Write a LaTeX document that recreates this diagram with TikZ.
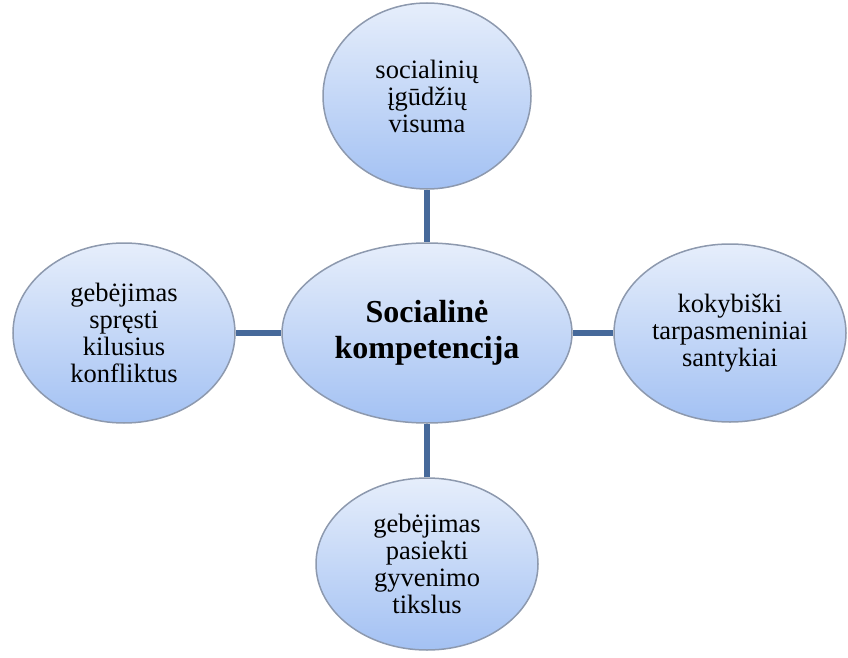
\documentclass[tikz,border=0pt]{standalone}
\usepackage{fontspec}
\setmainfont{Liberation Serif}
\usetikzlibrary{shapes.geometric}
\definecolor{ellTop}{HTML}{E6EEFB}
\definecolor{ellBot}{HTML}{A3C1F3}
\definecolor{ellLine}{HTML}{8D99AE}
\definecolor{linkCol}{HTML}{46699A}
\begin{document}
\begin{tikzpicture}[x=1pt,y=-1pt,
  bubble/.style={ellipse, draw=ellLine, line width=1.5pt, top color=ellTop, bottom color=ellBot,
    inner sep=0pt, align=center, font=\fontsize{26.5}{27}\selectfont},
  link/.style={draw=linkCol, line width=6pt}]
\useasboundingbox (0,0) rectangle (848,658);
\node[bubble, minimum width=290pt, minimum height=180pt, font=\fontsize{32}{36}\selectfont\bfseries] (c) at (427,333) {Socialinė\\kompetencija};
\node[bubble, minimum width=208pt, minimum height=186pt] (t) at (427,96) {socialinių\\įgūdžių\\visuma};
\node[bubble, minimum width=222pt, minimum height=180pt] (l) at (124,333) {gebėjimas\\spręsti\\kilusius\\konfliktus};
\node[bubble, minimum width=232pt, minimum height=178pt] (r) at (730,333) {kokybiški\\tarpasmeniniai\\santykiai};
\node[bubble, minimum width=222pt, minimum height=172pt] (b) at (427,564) {gebėjimas\\pasiekti\\gyvenimo\\tikslus};
\draw[link] (t) -- (c);
\draw[link] (b) -- (c);
\draw[link] (l) -- (c);
\draw[link] (r) -- (c);
\end{tikzpicture}
\end{document}
